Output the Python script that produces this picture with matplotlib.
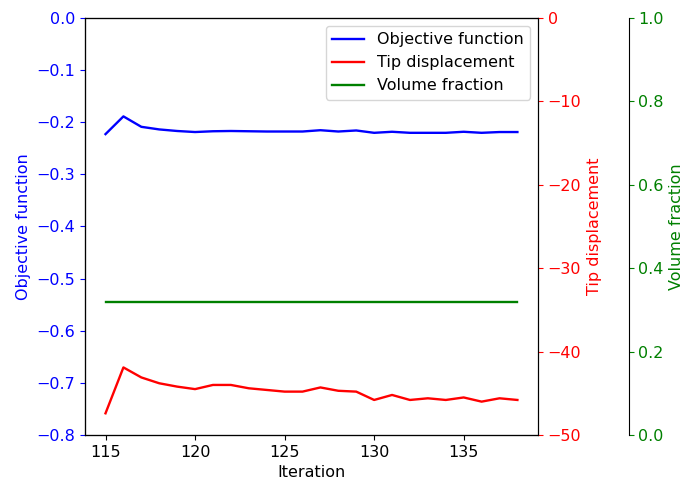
import numpy as np
from matplotlib import pyplot as plt

iterations = list(range(115, 139))
objective = [-0.223, -0.189, -0.209, -0.214, -0.217, -0.219, -0.2175, -0.217,
             -0.2175, -0.218, -0.218, -0.218, -0.2155, -0.218, -0.216, -0.2205,
             -0.2185, -0.2205, -0.2205, -0.2205, -0.2185, -0.2205, -0.219, -0.219]
tip_disp = [-47.4, -41.9, -43.1, -43.8, -44.2, -44.5, -44.0, -44.0,
            -44.4, -44.6, -44.8, -44.8, -44.3, -44.7, -44.8, -45.8,
            -45.2, -45.8, -45.6, -45.8, -45.5, -46.0, -45.6, -45.8]
volume = [0.32] * len(iterations)

plt.rcParams['font.size'] = 11.5
plt.rcParams['lines.linewidth'] = 1.7

fig = plt.figure(figsize=(6.96, 4.82), dpi=100)
ax = fig.add_axes([0.122, 0.0975, 0.651, 0.8655])
ax2 = ax.twinx()
ax3 = ax.twinx()
ax3.spines['right'].set_position(('axes', 1.2))

l1, = ax.plot(iterations, objective, color='b', label='Objective function')
l2, = ax2.plot(iterations, tip_disp, color='r', label='Tip displacement')
l3, = ax3.plot(iterations, volume, color='g', label='Volume fraction')

ax.set_ylim(-0.8, 0.0)
ax2.set_ylim(-50, 0)
ax3.set_ylim(0, 1)

ax.set_xlabel('Iteration')
ax.set_ylabel('Objective function', color='b')
ax2.set_ylabel('Tip displacement', color='r')
ax3.set_ylabel('Volume fraction', color='g')

ax.tick_params(axis='y', colors='b')
ax2.tick_params(axis='y', colors='r')
ax3.tick_params(axis='y', colors='g')

ax.legend([l1, l2, l3], [l.get_label() for l in [l1, l2, l3]], loc='upper right')

plt.savefig('out.png')
